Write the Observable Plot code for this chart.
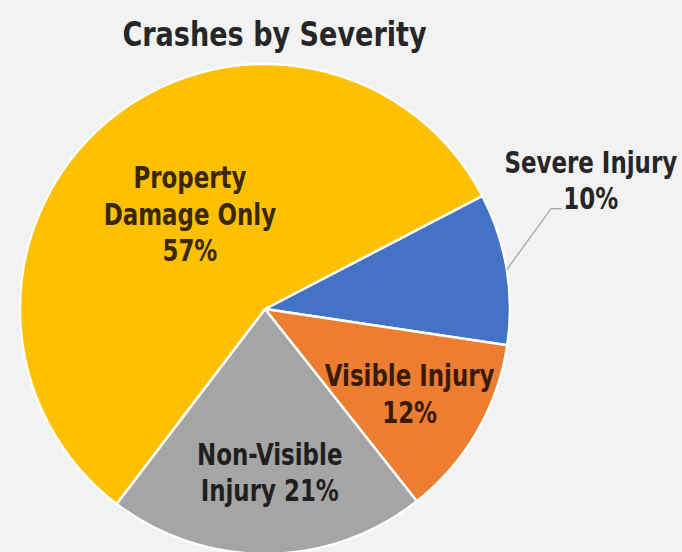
<!DOCTYPE html>
<html>
<head>
<meta charset="utf-8">
<script src="https://cdn.jsdelivr.net/npm/d3@7"></script>
<script src="https://cdn.jsdelivr.net/npm/@observablehq/plot@0.6"></script>
<style>
  html, body { margin: 0; padding: 0; background: #f2f2f2; }
  #chart { width: 682px; height: 552px; overflow: hidden; }
</style>
</head>
<body>
<div id="chart"></div>
<script>
// ---- data ----
const title = "Crashes by Severity";
const categories = ["Severe Injury", "Visible Injury", "Non-Visible Injury", "Property Damage Only"];
const shares = [10, 12, 21, 57];
const labels = ["Severe Injury\n10%", "Visible Injury\n12%", "Non-Visible\nInjury 21%", "Property\nDamage Only\n57%"];
const sliceColors = ["#4472C4", "#ED7D31", "#A5A5A5", "#FFC000"];

// ---- layout ----
const startDeg = 62.5;
const labelRadius = [1.43, 0.68, 0.66, 0.50];
const labelTurn = [-12.3, 0, -1, 2];
const labelFill = ["#262626", "#3a1c06", "#1f1f1f", "#3a2900"];
const fontFamily = "'Liberation Sans Narrow', 'Arial Narrow', 'DejaVu Sans Condensed', sans-serif";

const data = categories.map((c, i) => ({category: c, share: shares[i], label: labels[i]}));
const pie = d3.pie().sort(null).value(d => d.share)
  .startAngle(startDeg * Math.PI / 180).endAngle(startDeg * Math.PI / 180 + 2 * Math.PI);
const arcs = pie(data);

const unit = (a, r) => ({x: r * Math.sin(a), y: r * Math.cos(a)});
const labelData = arcs.map((a, i) => {
  const mid = (a.startAngle + a.endAngle) / 2 + labelTurn[i] * Math.PI / 180;
  return {...unit(mid, labelRadius[i]), label: a.data.label, i};
});

// leader line for the outside label (Severe Injury)
const sev = arcs[0];
const sevMid = (sev.startAngle + sev.endAngle) / 2;
const lab0 = labelData[0];
const leader = [
  unit(sevMid, 1.0),
  {x: lab0.x - 0.162, y: lab0.y - 0.119},
  {x: lab0.x - 0.121, y: lab0.y - 0.119}
];

const color = Plot.scale({color: {domain: categories, range: sliceColors}});

function pieMark(index, scales) {
  const cx = scales.x(0), cy = scales.y(0);
  const R = scales.x(1) - scales.x(0);
  const arcGen = d3.arc().innerRadius(0).outerRadius(R);
  const g = d3.create("svg:g").attr("transform", `translate(${cx},${cy})`);
  g.selectAll("path").data(arcs).join("path")
    .attr("d", arcGen)
    .attr("fill", d => color.apply(d.data.category))
    .attr("stroke", "#ffffff")
    .attr("stroke-width", 2.5)
    .attr("stroke-linejoin", "round");
  return g.node();
}

const chart = Plot.plot({
  width: 682,
  height: 552,
  margin: 0,
  style: {background: "#f2f2f2", fontFamily, overflow: "hidden"},
  x: {domain: [-1, 1], range: [265 - 245, 265 + 245], axis: null},
  y: {domain: [-1, 1], range: [309 + 245, 309 - 245], axis: null},
  marks: [
    pieMark,
    Plot.line(leader, {x: "x", y: "y", stroke: "#a6a6a6", strokeWidth: 1.3}),
    Plot.text(labelData, {
      x: "x", y: "y", text: "label",
      fill: d => labelFill[d.i],
      fontSize: 30, fontWeight: "bold", lineHeight: 1.22,
      lineAnchor: "middle", textAnchor: "middle", fontFamily
    }),
    Plot.text([title], {
      frameAnchor: "top", dx: -67, dy: 21, lineAnchor: "top",
      fontSize: 34, fontWeight: "bold", fill: "#262626", fontFamily
    })
  ]
});

// narrow the condensed font horizontally to approximate the reference's narrow face
const textGroups = chart.querySelectorAll('g[aria-label="text"]');
const squeeze = [0.85, 0.885];
textGroups.forEach((g, gi) => {
  g.querySelectorAll("text").forEach(t => {
    const tr = t.getAttribute("transform") || "";
    t.setAttribute("transform", `${tr} scale(${squeeze[gi] ?? 1},1)`);
  });
});

document.getElementById("chart").appendChild(chart);
</script>
</body>
</html>
